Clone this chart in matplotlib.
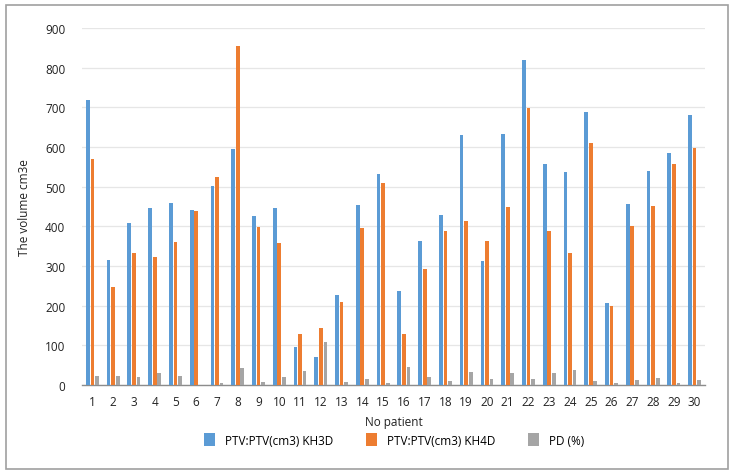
import matplotlib.pyplot as plt
import numpy as np
from matplotlib.patches import Rectangle

plt.rcParams['font.family'] = ['Open Sans', 'DejaVu Sans']

patients = [str(i) for i in range(1, 31)]
kh3d = [718, 315, 408, 445, 459, 441, 502, 594, 426, 447, 96, 70, 228, 455, 533,
        236, 364, 429, 629, 313, 634, 819, 556, 536, 689, 207, 456, 539, 585, 681]
kh4d = [570, 248, 332, 322, 360, 439, 524, 855, 399, 358, 129, 144, 209, 396, 508,
        128, 292, 388, 414, 362, 450, 698, 389, 334, 610, 199, 400, 452, 557, 597]
pd_pct = [22, 23, 20, 29, 23, 0, 5, 44, 7, 20, 35, 108, 8, 14, 5,
          46, 20, 10, 34, 15, 29, 15, 30, 39, 11, 5, 13, 17, 5, 13]
series_names = ['PTV:PTV(cm3) KH3D', 'PTV:PTV(cm3) KH4D', 'PD (%)']
colors = ['#5B9BD5', '#ED7D31', '#A5A5A5']
yticks = [0, 100, 200, 300, 400, 500, 600, 700, 800, 900]

W, H = 735, 477
fig = plt.figure(figsize=(W / 100, H / 100), dpi=100)
fig.patches.append(Rectangle((6 / W, 1 - 470 / H), (728 - 6) / W, (470 - 6) / H,
                             transform=fig.transFigure, fill=False,
                             edgecolor='#A0A0A0', linewidth=1.2))

ax = fig.add_axes([82 / W, 1 - 386 / H, (705 - 82) / W, (386 - 29) / H])
x = np.arange(len(patients))
bw = 0.18
off = 0.22
for i, (vals, name, c) in enumerate(zip([kh3d, kh4d, pd_pct], series_names, colors)):
    ax.bar(x + (i - 1) * off, vals, width=bw, color=c, label=name, zorder=3)

ax.set_xlim(-0.5, len(patients) - 0.5)
ax.set_ylim(0, 900)
ax.set_yticks(yticks)
ax.set_xticks(x)
ax.set_xticklabels(patients)
ax.grid(axis='y', color='#E6E6E6', linewidth=0.9, zorder=0)
for s in ['left', 'right', 'top']:
    ax.spines[s].set_visible(False)
ax.spines['bottom'].set_color('#8C8C8C')
ax.spines['bottom'].set_linewidth(1.0)
ax.tick_params(axis='both', length=0, labelsize=8.5, colors='#222222')
ax.tick_params(axis='y', pad=12)
ax.tick_params(axis='x', pad=7)
ax.set_ylabel('The volume cm3e', fontsize=8.5, color='#222222', labelpad=10)
ax.set_xlabel('No patient', fontsize=8.5, color='#222222', labelpad=5)

fig.legend(loc='center', bbox_to_anchor=(394 / W, 1 - 441 / H), ncol=3,
           frameon=False, fontsize=8.5, handlelength=0.95, handleheight=1.2,
           columnspacing=2.8, handletextpad=0.8)

fig.savefig('out.png', dpi=100)
